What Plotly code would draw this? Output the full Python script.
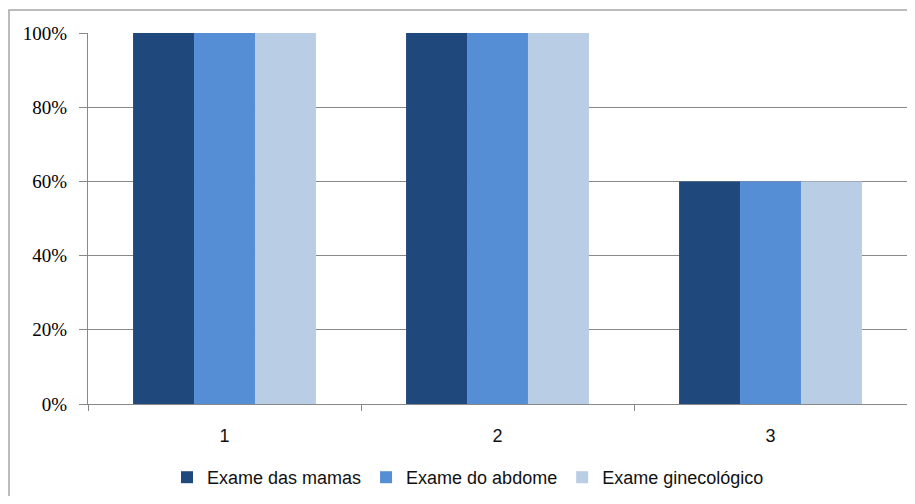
import plotly.graph_objects as go

categories = ["1", "2", "3"]
series_names = ["Exame das mamas", "Exame do abdome", "Exame ginecológico"]
mamas = [1.0, 1.0, 0.6]
abdome = [1.0, 1.0, 0.6]
gineco = [1.0, 1.0, 0.6]
colors = ["#1F497D", "#558ED5", "#B9CDE5"]

fig = go.Figure()
for name, vals, c in zip(series_names, [mamas, abdome, gineco], colors):
    fig.add_trace(go.Bar(x=categories, y=vals, name=name, marker=dict(color=c, line=dict(width=0))))

OFF = 8  # page body margin
W, H = 899, 488
L, R, T, B = 80, 0, 25, 90
pw, ph = W - L - R, H - T - B

def px(x):  # page x -> paper
    return (x - OFF - L) / pw

def py(y):  # page y -> paper
    return (H - B - (y - OFF)) / ph

fig.add_shape(type="rect", xref="paper", yref="paper",
              x0=px(9), x1=px(940), y0=py(530), y1=py(10),
              line=dict(color="#A6A6A6", width=1.5), fillcolor="rgba(0,0,0,0)", layer="below")

fig.update_layout(
    width=W, height=H,
    margin=dict(l=L, r=R, t=T, b=B),
    paper_bgcolor="white", plot_bgcolor="white",
    barmode="group", bargap=0.33, bargroupgap=0,
    font=dict(family="Liberation Sans, Arial", color="#111111", size=15),
    legend=dict(orientation="h", x=px(468), xanchor="center", y=py(480), yanchor="middle",
                font=dict(size=18), traceorder="normal"),
    xaxis=dict(showgrid=False, showline=True, linecolor="#888888", linewidth=1,
               ticks="outside", ticklen=6, tickcolor="#888888", tickson="boundaries",
               tickfont=dict(size=18), ticklabelstandoff=15, range=[-0.5, 2.5]),
    yaxis=dict(range=[0, 1], tickvals=[0, 0.2, 0.4, 0.6, 0.8, 1.0],
               ticktext=["0%", "20%", "40%", "60%", "80%", "100%"],
               showgrid=True, gridcolor="#888888", gridwidth=1,
               showline=True, linecolor="#888888", linewidth=1,
               ticks="outside", ticklen=8, tickcolor="#888888", ticklabelstandoff=8,
               tickfont=dict(size=19, family="Liberation Serif, DejaVu Serif", color="#000000"),
               zeroline=False),
)

fig.write_html("out.html")
